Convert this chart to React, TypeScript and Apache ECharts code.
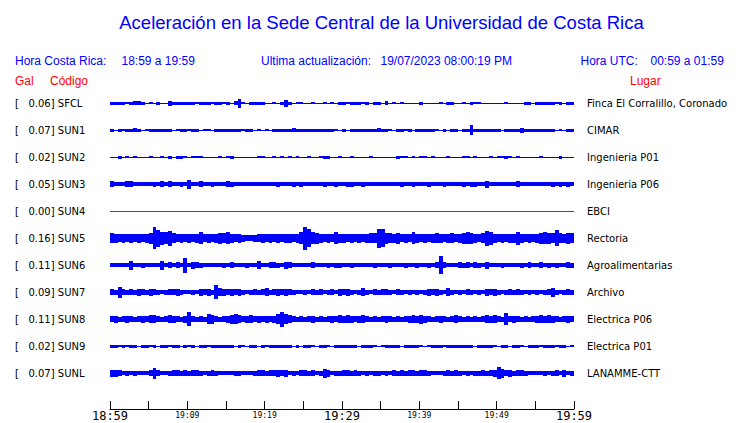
import { useEffect, useRef } from 'react';
import * as echarts from 'echarts';

// ---- data ----
const CODES = ['SFCL', 'SUN1', 'SUN2', 'SUN3', 'SUN4', 'SUN5', 'SUN6', 'SUN7', 'SUN8', 'SUN9', 'SUNL'];
const GAL = [0.06, 0.07, 0.02, 0.05, 0.0, 0.16, 0.11, 0.09, 0.11, 0.02, 0.07];
const PLACES = [
  'Finca El Corralillo, Coronado', 'CIMAR', 'Ingenieria P01', 'Ingenieria P06', 'EBCI', 'Rectoria',
  'Agroalimentarias', 'Archivo', 'Electrica P06', 'Electrica P01', 'LANAMME-CTT',
];
const TICK_LABELS = ['18:59', '', '19:09', '', '19:19', '', '19:29', '', '19:39', '', '19:49', '', '19:59'];
const STEP_MIN = 0.5; // one envelope sample every half minute

// envelope (peak-to-peak amplitude) per half minute, 120 samples per station
const SFCL = [
  3, 3, 3, 3, 2, 3, 4, 4, 3, 1, 2, 1, 3, 1, 1, 5, 3, 3, 3, 3, 3, 3, 2, 3, 3, 3, 2, 3, 3, 2,
  3, 1, 4, 9, 2, 1, 3, 3, 3, 3, 1, 1, 2, 1, 3, 7, 3, 1, 2, 2, 1, 1, 2, 1, 1, 2, 1, 2, 1, 3,
  3, 2, 3, 3, 3, 2, 3, 1, 3, 3, 1, 4, 1, 2, 1, 2, 1, 1, 1, 1, 3, 1, 1, 1, 1, 2, 1, 3, 3, 1,
  1, 2, 1, 3, 2, 2, 1, 1, 1, 1, 1, 1, 2, 1, 1, 1, 1, 3, 3, 1, 3, 3, 3, 3, 3, 2, 3, 1, 3, 3,
];
const SUN1 = [
  3, 1, 3, 2, 3, 3, 4, 3, 1, 2, 3, 3, 3, 3, 3, 3, 1, 2, 3, 3, 2, 3, 3, 1, 2, 2, 1, 3, 3, 3,
  3, 3, 3, 3, 2, 3, 3, 1, 2, 1, 2, 1, 3, 3, 3, 3, 3, 4, 3, 3, 3, 3, 3, 3, 3, 3, 3, 3, 2, 1,
  3, 1, 3, 3, 3, 3, 3, 3, 3, 4, 3, 3, 2, 1, 3, 3, 2, 3, 1, 3, 3, 3, 3, 3, 2, 1, 3, 1, 3, 3,
  1, 3, 3, 10, 3, 3, 3, 3, 3, 3, 3, 1, 3, 3, 3, 3, 5, 3, 3, 3, 3, 3, 3, 3, 3, 1, 2, 1, 3, 3,
];
const SUN2 = [
  1, 1, 3, 1, 2, 1, 2, 1, 1, 1, 2, 1, 1, 2, 1, 3, 1, 3, 3, 2, 1, 2, 2, 2, 1, 1, 1, 1, 2, 1,
  2, 3, 1, 1, 1, 1, 1, 1, 2, 2, 1, 1, 2, 1, 2, 1, 2, 1, 2, 1, 1, 2, 1, 1, 2, 3, 3, 1, 1, 2,
  1, 1, 2, 1, 1, 1, 1, 2, 1, 1, 1, 1, 1, 1, 3, 2, 2, 1, 2, 1, 2, 2, 1, 2, 1, 1, 1, 2, 1, 1,
  1, 2, 2, 1, 2, 1, 1, 1, 2, 1, 2, 2, 3, 2, 1, 2, 1, 1, 1, 1, 1, 2, 1, 1, 1, 1, 3, 1, 1, 1,
];
const SUN3 = [
  6, 4, 4, 4, 6, 6, 4, 4, 4, 4, 4, 5, 4, 6, 4, 6, 4, 4, 5, 4, 9, 4, 4, 6, 4, 4, 5, 4, 4, 4,
  6, 5, 4, 4, 4, 4, 4, 4, 4, 4, 4, 4, 4, 5, 4, 4, 4, 5, 4, 5, 4, 4, 4, 4, 4, 5, 4, 4, 5, 4,
  4, 5, 5, 4, 4, 5, 4, 4, 4, 4, 4, 4, 4, 4, 4, 5, 4, 4, 5, 4, 4, 4, 5, 4, 4, 4, 5, 4, 4, 4,
  4, 5, 4, 5, 5, 4, 4, 7, 4, 4, 4, 4, 4, 4, 4, 6, 4, 4, 4, 4, 4, 4, 4, 4, 5, 4, 5, 4, 5, 4,
];
const SUN4 = [
  0, 0, 0, 0, 0, 0, 0, 0, 0, 0, 0, 0, 0, 0, 0, 0, 0, 0, 0, 0, 0, 0, 0, 0, 0, 0, 0, 0, 0, 0,
  0, 0, 0, 0, 0, 0, 0, 0, 0, 0, 0, 0, 0, 0, 0, 0, 0, 0, 0, 0, 0, 0, 0, 0, 0, 0, 0, 0, 0, 0,
  0, 0, 0, 0, 0, 0, 0, 0, 0, 0, 0, 0, 0, 0, 0, 0, 0, 0, 0, 0, 0, 0, 0, 0, 0, 0, 0, 0, 0, 0,
  0, 0, 0, 0, 0, 0, 0, 0, 0, 0, 0, 0, 0, 0, 0, 0, 0, 0, 0, 0, 0, 0, 0, 0, 0, 0, 0, 0, 0, 0,
];
const SUN5 = [
  10, 9, 8, 9, 8, 9, 8, 9, 8, 9, 11, 22, 17, 13, 12, 15, 10, 8, 9, 8, 9, 8, 9, 12, 8, 9, 8, 9, 11, 10,
  12, 9, 8, 9, 7, 6, 6, 7, 8, 9, 8, 9, 8, 9, 8, 9, 9, 8, 9, 12, 23, 18, 12, 11, 9, 8, 9, 8, 12, 9,
  9, 8, 9, 8, 9, 8, 9, 10, 10, 19, 18, 11, 10, 9, 11, 8, 9, 8, 12, 9, 8, 9, 8, 9, 10, 9, 8, 9, 10, 8,
  9, 11, 12, 11, 9, 8, 10, 15, 13, 9, 8, 9, 8, 9, 9, 13, 9, 8, 9, 8, 9, 11, 12, 11, 10, 16, 10, 9, 11, 10,
];
const SUN6 = [
  4, 4, 4, 4, 4, 9, 4, 4, 5, 4, 4, 4, 4, 9, 4, 6, 4, 6, 4, 15, 4, 7, 6, 5, 4, 4, 4, 4, 4, 5,
  4, 6, 4, 4, 4, 5, 4, 4, 8, 4, 4, 6, 6, 5, 4, 7, 6, 4, 4, 4, 4, 4, 6, 4, 4, 4, 5, 4, 5, 5,
  4, 4, 5, 4, 4, 4, 4, 4, 5, 4, 4, 4, 5, 4, 4, 4, 5, 4, 4, 5, 4, 4, 5, 4, 6, 18, 6, 4, 4, 4,
  6, 5, 6, 4, 6, 5, 4, 7, 4, 4, 4, 5, 4, 4, 4, 4, 5, 4, 6, 4, 4, 6, 4, 5, 4, 5, 4, 4, 6, 5,
];
const SUN7 = [
  6, 5, 11, 6, 5, 6, 5, 7, 6, 5, 7, 6, 5, 4, 5, 6, 6, 7, 5, 4, 4, 5, 4, 7, 6, 7, 5, 14, 8, 7,
  6, 7, 6, 7, 5, 4, 5, 6, 5, 6, 8, 5, 6, 7, 6, 7, 6, 5, 4, 4, 5, 4, 6, 5, 6, 4, 5, 6, 4, 7,
  6, 7, 5, 4, 5, 8, 5, 4, 6, 5, 6, 6, 5, 4, 6, 5, 4, 5, 4, 5, 4, 5, 7, 6, 7, 5, 4, 8, 5, 4,
  5, 4, 6, 5, 4, 5, 4, 7, 6, 7, 5, 4, 5, 6, 5, 6, 5, 4, 5, 4, 5, 4, 5, 6, 9, 5, 4, 5, 6, 5,
];
const SUN8 = [
  6, 7, 5, 6, 7, 6, 5, 6, 7, 6, 8, 8, 6, 5, 6, 8, 7, 6, 5, 7, 14, 6, 5, 6, 5, 10, 9, 6, 5, 6,
  7, 9, 10, 8, 6, 7, 8, 6, 7, 6, 7, 6, 7, 10, 15, 10, 8, 6, 5, 6, 5, 6, 7, 5, 6, 5, 6, 7, 6, 8,
  7, 8, 7, 6, 7, 8, 6, 5, 6, 5, 6, 7, 6, 5, 6, 5, 6, 7, 8, 7, 9, 7, 6, 5, 6, 7, 6, 5, 6, 8,
  6, 5, 6, 5, 6, 5, 6, 8, 7, 8, 6, 5, 12, 6, 7, 6, 5, 6, 5, 6, 7, 8, 7, 8, 7, 6, 5, 6, 7, 6,
];
const SUN9 = [
  3, 3, 2, 3, 2, 3, 3, 1, 3, 3, 2, 3, 1, 3, 3, 2, 3, 3, 1, 3, 2, 3, 1, 3, 3, 2, 3, 3, 3, 3,
  3, 3, 1, 3, 2, 1, 3, 3, 1, 3, 2, 3, 3, 3, 3, 3, 3, 1, 3, 1, 3, 3, 2, 1, 3, 3, 2, 1, 3, 3,
  3, 3, 3, 3, 1, 3, 3, 3, 2, 1, 2, 3, 3, 3, 3, 1, 3, 3, 3, 3, 2, 1, 2, 3, 3, 3, 2, 3, 3, 3,
  3, 3, 3, 3, 1, 3, 3, 3, 3, 2, 1, 3, 3, 1, 3, 3, 2, 1, 3, 3, 3, 2, 3, 3, 3, 2, 3, 3, 1, 2,
];
const SUNL = [
  7, 7, 6, 4, 5, 4, 5, 4, 4, 4, 6, 11, 6, 4, 4, 5, 6, 6, 5, 6, 5, 6, 6, 5, 4, 5, 6, 5, 4, 4,
  4, 4, 5, 5, 4, 4, 4, 5, 6, 6, 5, 6, 6, 7, 6, 7, 4, 5, 4, 6, 6, 5, 6, 4, 5, 9, 7, 4, 5, 5,
  6, 6, 5, 6, 5, 4, 5, 4, 5, 5, 4, 5, 4, 6, 5, 6, 5, 6, 6, 5, 6, 6, 5, 4, 4, 4, 5, 6, 5, 6,
  5, 4, 5, 4, 5, 5, 6, 5, 6, 7, 12, 9, 6, 7, 5, 6, 6, 5, 4, 4, 4, 4, 5, 4, 5, 6, 4, 7, 4, 5,
];
const TRACES = [SFCL, SUN1, SUN2, SUN3, SUN4, SUN5, SUN6, SUN7, SUN8, SUN9, SUNL];

// ---- styling ----
const BLUE = '#0000ff';
const RED = '#ff0000';
const AMP_UNIT = 1 / 27; // one amplitude unit as a fraction of a station's band
const SANS = '"Liberation Sans", Arial, sans-serif';
const DEJAVU = '"DejaVu Sans", sans-serif';
const MONO = '"DejaVu Sans Mono", monospace';

function buildOption(): any {
  const data: number[][] = [];
  TRACES.forEach((trace, k) => {
    trace.forEach((v, i) => data.push([i * STEP_MIN, k, v]));
  });

  const txt = (text: string, x: number, y: number, fill: string, size = 12, align = 'left') => ({
    type: 'text',
    x,
    y,
    silent: true,
    style: {
      text,
      fill,
      font: `${size}px ${SANS}`,
      textAlign: align,
      textVerticalAlign: 'middle',
    },
  });

  return {
    animation: false,
    backgroundColor: '#ffffff',
    grid: { left: 110, width: 464, top: 89.5, height: 297, containLabel: false },
    xAxis: {
      type: 'value',
      min: 0,
      max: 60,
      interval: 5,
      offset: 22.5,
      axisLine: { show: true, lineStyle: { color: '#000', width: 1 } },
      axisTick: { show: true, inside: true, length: 8, lineStyle: { color: '#000', width: 1 } },
      splitLine: { show: false },
      axisLabel: {
        show: true,
        margin: 1,
        showMinLabel: true,
        showMaxLabel: true,
        formatter: (value: number) => {
          const idx = Math.round(value / 5);
          const s = TICK_LABELS[idx];
          if (!s) return '';
          return idx % 6 === 0 ? `{big|${s}}` : `{small|${s}}`;
        },
        rich: {
          big: { fontFamily: MONO, fontSize: 12, lineHeight: 12, color: '#000' },
          small: { fontFamily: MONO, fontSize: 8, lineHeight: 10, color: '#000' },
        },
      },
    },
    yAxis: [
      {
        type: 'category',
        data: CODES,
        inverse: true,
        position: 'left',
        axisLine: { show: false },
        axisTick: { show: false },
        splitLine: { show: false },
        axisLabel: {
          show: true,
          align: 'left',
          margin: 95,
          color: '#000',
          fontFamily: DEJAVU,
          fontSize: 10,
          formatter: (v: string, i: number) => `[   ${GAL[i].toFixed(2)}] ${v}`,
        },
      },
      {
        type: 'category',
        data: CODES,
        inverse: true,
        position: 'right',
        axisLine: { show: false },
        axisTick: { show: false },
        splitLine: { show: false },
        axisLabel: {
          show: true,
          align: 'left',
          margin: 13,
          color: '#000',
          fontFamily: DEJAVU,
          fontSize: 10,
          formatter: (_v: string, i: number) => PLACES[i],
        },
      },
    ],
    series: [
      {
        type: 'custom',
        xAxisIndex: 0,
        yAxisIndex: 0,
        silent: true,
        clip: false,
        encode: { x: 0, y: 1 },
        data,
        renderItem: (_params: any, api: any) => {
          const t0 = api.value(0) as number;
          const k = api.value(1) as number;
          const h = api.value(2) as number;
          const a = api.coord([t0, k]);
          const b = api.coord([t0 + STEP_MIN, k]);
          const band = api.size([0, 1])[1];
          const hp = Math.max(1, Math.round(h * band * AMP_UNIT));
          const x0 = Math.round(a[0]);
          const x1 = Math.round(b[0]);
          const y0 = Math.round(a[1] - hp / 2);
          return {
            type: 'rect',
            shape: { x: x0, y: y0, width: Math.max(1, x1 - x0), height: hp },
            style: { fill: GAL[k] === 0 ? RED : BLUE },
          };
        },
      },
    ],
    graphic: [
      txt('Aceleración en la Sede Central de la Universidad de Costa Rica', 381.5, 22, BLUE, 18.5, 'center'),
      txt('Hora Costa Rica:', 15, 61, BLUE),
      txt('18:59 a 19:59', 121.5, 61, BLUE),
      txt('Ultima actualización:', 261, 61, BLUE),
      txt('19/07/2023 08:00:19 PM', 380.5, 61, BLUE),
      txt('Hora UTC:', 580.5, 61, BLUE),
      txt('00:59 a 01:59', 650.5, 61, BLUE),
      txt('Gal', 15, 81, RED),
      txt('Código', 50, 81, RED),
      txt('Lugar', 630, 81, RED),
    ],
  };
}

export default function App() {
  const ref = useRef<HTMLDivElement>(null);
  useEffect(() => {
    if (!ref.current) return;
    const chart = echarts.init(ref.current, undefined, { renderer: 'svg', width: 740, height: 423 });
    chart.setOption(buildOption());
    return () => chart.dispose();
  }, []);
  return (
    <div
      ref={ref}
      style={{ position: 'fixed', left: 0, top: 0, width: 740, height: 423, background: '#fff' }}
    />
  );
}
